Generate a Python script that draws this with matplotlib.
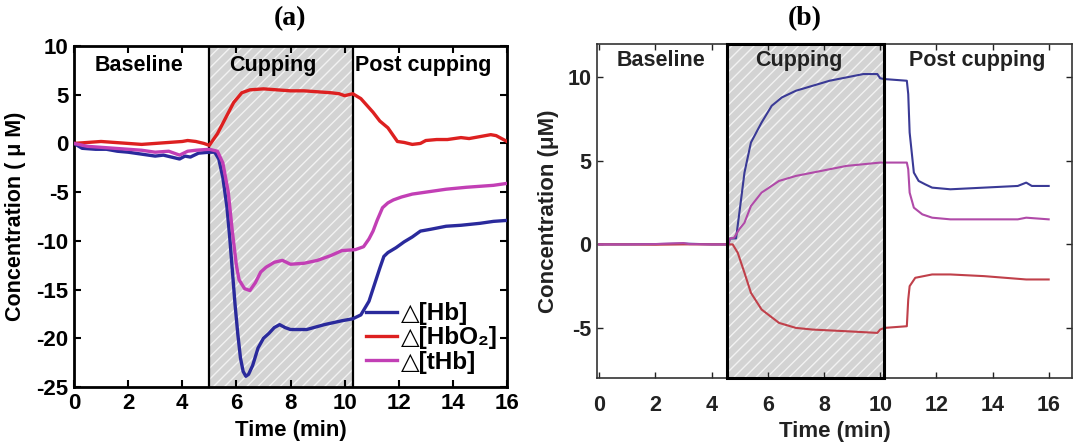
import matplotlib
matplotlib.use("Agg")
import matplotlib.pyplot as plt

plt.rcParams['font.family'] = ['Liberation Sans', 'DejaVu Sans']
plt.rcParams['font.weight'] = 'bold'
plt.rcParams['hatch.linewidth'] = 1.0
plt.rcParams['axes.unicode_minus'] = False

# ---------------- Panel (a) data ----------------
t_hb_a = [0, 0.3, 0.8, 1.2, 1.6, 2.0, 2.5, 3.0, 3.3, 3.6, 3.9, 4.1, 4.3, 4.6, 5.0, 5.2, 5.35,
          5.5, 5.65, 5.75, 5.85, 5.95, 6.05, 6.15, 6.25, 6.35, 6.45, 6.6, 6.8, 7.0, 7.2, 7.4,
          7.6, 7.8, 8.0, 8.6, 9.25, 9.9, 10.3, 10.6, 10.9, 11.1, 11.3, 11.45, 11.6, 11.9, 12.2,
          12.5, 12.8, 13.2, 13.75, 14.3, 15.0, 15.5, 16.0]
hb_a = [0, -0.5, -0.6, -0.6, -0.8, -0.9, -1.1, -1.3, -1.2, -1.4, -1.6, -1.3, -1.4, -1.0, -0.9,
        -0.9, -1.6, -3.5, -6.5, -9.5, -13.0, -16.5, -19.5, -22.0, -23.4, -23.9, -23.7, -22.8,
        -21.0, -20.0, -19.5, -18.9, -18.6, -18.9, -19.1, -19.1, -18.6, -18.2, -18.0, -17.6,
        -16.2, -14.5, -12.8, -11.6, -11.2, -10.7, -10.1, -9.6, -9.0, -8.8, -8.5, -8.4, -8.2,
        -8.0, -7.9]

t_hbo2_a = [0, 0.5, 1.0, 1.5, 2.0, 2.5, 3.0, 3.5, 4.0, 4.2, 4.5, 4.8, 5.0, 5.3, 5.6, 5.9, 6.2,
            6.5, 7.0, 7.5, 8.0, 8.5, 9.0, 9.5, 9.8, 10.0, 10.3, 10.6, 11.05, 11.3, 11.6, 11.8,
            11.95, 12.2, 12.5, 12.8, 13.0, 13.4, 13.8, 14.3, 14.6, 15.0, 15.4, 15.6, 15.8, 16.0]
hbo2_a = [0, 0.1, 0.2, 0.1, 0.0, -0.1, 0.0, 0.1, 0.2, 0.3, 0.2, 0.0, -0.2, 1.0, 2.6, 4.2, 5.2,
          5.5, 5.6, 5.5, 5.4, 5.4, 5.3, 5.2, 5.1, 4.9, 5.1, 4.6, 3.2, 2.3, 1.6, 0.8, 0.2, 0.1,
          -0.1, 0.0, 0.3, 0.4, 0.4, 0.6, 0.5, 0.7, 0.9, 0.8, 0.5, 0.2]

t_thb_a = [0, 0.5, 1.0, 1.5, 2.0, 2.5, 3.0, 3.5, 3.9, 4.2, 4.5, 5.0, 5.3, 5.5, 5.7, 5.85, 6.0,
           6.1, 6.3, 6.5, 6.7, 6.9, 7.1, 7.4, 7.7, 8.0, 8.5, 9.0, 9.5, 9.9, 10.4, 10.7, 10.9,
           11.05, 11.2, 11.4, 11.6, 11.8, 12.1, 12.5, 13.0, 13.75, 14.5, 15.0, 15.5, 16.0]
thb_a = [0, -0.3, -0.4, -0.5, -0.6, -0.7, -0.9, -0.8, -1.2, -0.8, -0.7, -0.6, -0.8, -2.0, -5.0,
         -9.0, -12.5, -14.0, -14.9, -15.1, -14.3, -13.2, -12.7, -12.2, -12.0, -12.4, -12.3,
         -12.0, -11.5, -11.0, -10.9, -10.6, -9.8, -9.0, -7.9, -6.6, -6.1, -5.8, -5.5, -5.2,
         -5.0, -4.7, -4.5, -4.4, -4.3, -4.1]

# ---------------- Panel (b) data ----------------
t_hb_b = [0, 1.0, 2.0, 3.0, 4.0, 4.6, 4.65, 4.87, 5.05, 5.17, 5.4, 5.78, 6.14, 6.5, 7.0, 7.6,
          8.2, 8.8, 9.4, 9.9, 10.0, 10.15, 10.95, 11.0, 11.05, 11.2, 11.37, 11.6, 11.85, 12.5,
          13.7, 14.9, 15.2, 15.4, 16.0]
hb_b = [0, 0, 0.02, 0.05, 0, 0, 0.35, 0.36, 2.7, 4.3, 6.1, 7.3, 8.3, 8.8, 9.2, 9.5, 9.8, 10.0,
        10.2, 10.2, 9.95, 9.9, 9.8, 9.0, 6.7, 4.3, 3.8, 3.6, 3.4, 3.3, 3.4, 3.5, 3.7, 3.5, 3.5]

t_hbo2_b = [0, 1.0, 2.0, 3.0, 4.0, 4.75, 4.93, 5.17, 5.4, 5.78, 6.4, 7.0, 7.6, 8.8, 9.9, 10.0,
            10.15, 10.95, 11.0, 11.05, 11.25, 11.85, 12.5, 13.7, 15.2, 16.0]
hbo2_b = [0, 0, -0.02, 0, 0, 0, -0.5, -1.7, -2.9, -3.9, -4.7, -5.0, -5.1, -5.2, -5.3, -5.1,
          -5.0, -4.9, -3.3, -2.5, -2.0, -1.8, -1.8, -1.9, -2.1, -2.1]

t_thb_b = [0, 1.0, 2.0, 3.0, 3.2, 4.0, 4.6, 4.65, 4.8, 4.98, 5.17, 5.4, 5.78, 6.4, 7.0, 7.6,
           8.2, 8.8, 9.4, 10.0, 10.95, 11.0, 11.05, 11.2, 11.5, 11.85, 12.5, 14.9, 15.2, 16.0]
thb_b = [0, 0, 0.02, 0.08, 0.02, 0, 0, 0.35, 0.4, 0.9, 1.3, 2.3, 3.1, 3.8, 4.1, 4.3, 4.5, 4.7,
         4.8, 4.9, 4.9, 4.5, 3.1, 2.2, 1.8, 1.6, 1.5, 1.5, 1.6, 1.5]

phases = ['Baseline', 'Cupping', 'Post cupping']
legend_labels = ['△[Hb]', '△[HbO₂]', '△[tHb]']
xticks = [0, 2, 4, 6, 8, 10, 12, 14, 16]
cup_a = (5.0, 10.3)
cup_b = (4.55, 10.14)

c_blue_a, c_red_a, c_mag_a = '#2a2a9c', '#dd2020', '#c23fb5'
c_blue_b, c_red_b, c_mag_b = '#3a3a96', '#c0404a', '#b04aa8'

fig = plt.figure(figsize=(10.73, 4.47), dpi=100)

# ---------------- Panel (a) ----------------
ax = fig.add_axes([74/1073, 60/447, 433/1073, 341/447])
ax.axvspan(*cup_a, facecolor='#d3d3d3', edgecolor='#f2f2f2', hatch='///', linewidth=0, zorder=0)
for xv in cup_a:
    ax.axvline(xv, color='black', lw=1.6, zorder=1)
ax.plot(t_hb_a, hb_a, color=c_blue_a, lw=2.4, label=legend_labels[0], zorder=3)
ax.plot(t_hbo2_a, hbo2_a, color=c_red_a, lw=2.4, label=legend_labels[1], zorder=3)
ax.plot(t_thb_a, thb_a, color=c_mag_a, lw=2.4, label=legend_labels[2], zorder=3)
ax.set_xlim(0, 16)
ax.set_ylim(-25, 10)
ax.set_xticks(xticks)
ax.set_yticks([10, 5, 0, -5, -10, -15, -20, -25])
ax.tick_params(direction='in', top=True, right=True, length=5, width=1.5, labelsize=16, pad=4)
for s in ax.spines.values():
    s.set_linewidth(2.0)
ax.set_xlabel('Time (min)', fontsize=16, fontweight='bold')
ax.set_ylabel('Concentration ( μ M)', fontsize=15.5, fontweight='bold')
ax.yaxis.set_label_coords(-0.112, 0.5)
ax.xaxis.set_label_coords(0.5, -0.098)
fig.text(290/1073, 1 - 19/447, '(a)', fontsize=20, fontweight='bold', family='Liberation Serif',
         ha='center', va='center')
for txt, xp in zip(phases, [2.4, 7.35, 12.9]):
    ax.text(xp, 0.944, txt, transform=ax.get_xaxis_transform(), ha='center', va='center',
            fontsize=15.5, fontweight='bold')
leg = ax.legend(loc='lower right', bbox_to_anchor=(1.01, 0.0), frameon=False,
                prop={'size': 17.5, 'weight': 'bold'}, handlelength=1.3, handletextpad=0.15,
                labelspacing=0.05, borderaxespad=0.15)

# ---------------- Panel (b) ----------------
bx = fig.add_axes([597/1073, 69/447, 475/1073, 334/447])
bx.axvspan(*cup_b, facecolor='#d3d3d3', edgecolor='#f2f2f2', hatch='///', linewidth=0, zorder=0)
bx.axvspan(*cup_b, facecolor='none', edgecolor='black', linewidth=2.2, zorder=4, clip_on=False)
bx.plot(t_hb_b, hb_b, color=c_blue_b, lw=1.5, zorder=3)
bx.plot(t_hbo2_b, hbo2_b, color=c_red_b, lw=1.5, zorder=3)
bx.plot(t_thb_b, thb_b, color=c_mag_b, lw=1.5, zorder=3)
bx.set_xlim(-0.08, 16.83)
bx.set_ylim(-8, 12)
bx.set_xticks(xticks)
bx.set_yticks([-5, 0, 5, 10])
bx.tick_params(direction='in', top=True, right=True, length=4, width=1.0, labelsize=15.5,
               pad=4, colors='#222222')
bx.tick_params(axis='x', pad=12)
for s in bx.spines.values():
    s.set_linewidth(1.2)
    s.set_color('#333333')
bx.set_xlabel('Time (min)', fontsize=16, fontweight='bold', color='#222222')
bx.set_ylabel('Concentration (μM)', fontsize=16, fontweight='bold', color='#222222')
bx.yaxis.set_label_coords(-0.08, 0.5)
bx.xaxis.set_label_coords(0.5, -0.13)
fig.text(805/1073, 1 - 19/447, '(b)', fontsize=20, fontweight='bold', family='Liberation Serif',
         ha='center', va='center')
for txt, xp in zip(phases, [2.2, 7.1, 13.45]):
    bx.text(xp, 0.952, txt, transform=bx.get_xaxis_transform(), ha='center', va='center',
            fontsize=15.5, fontweight='bold', color='#222222')

fig.savefig('out.png', dpi=100)
